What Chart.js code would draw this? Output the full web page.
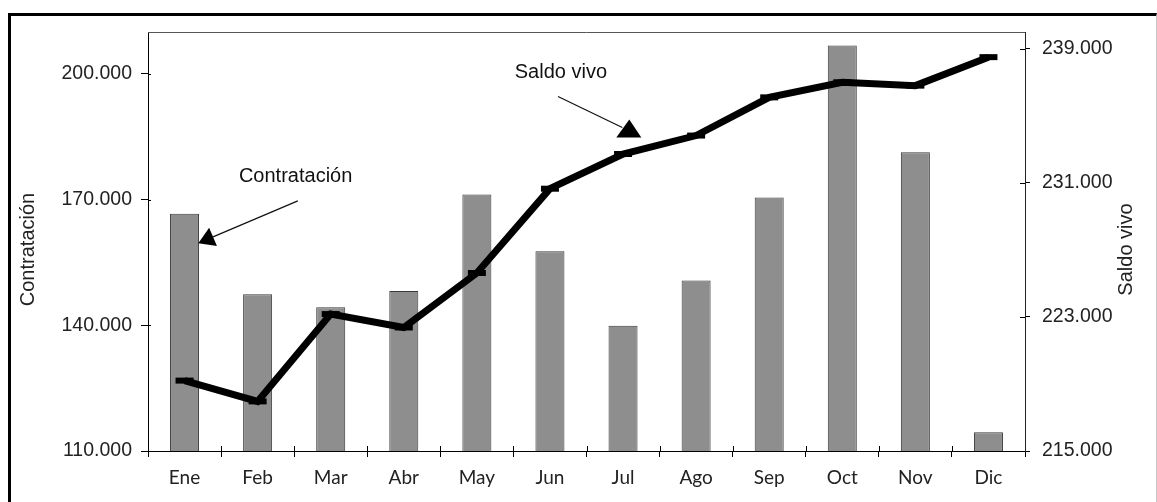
<!DOCTYPE html>
<html>
<head>
<meta charset="utf-8">
<script src="https://cdn.jsdelivr.net/npm/chart.js@4/dist/chart.umd.min.js"></script>
<style>
  html, body { margin: 0; padding: 0; background: #fff; }
  #wrap { position: relative; width: 1157px; height: 502px; overflow: hidden; }
  #frame { position: absolute; left: 8px; top: 13px; width: 1145px; height: 520px;
           border-top: 3px solid #000; border-left: 3px solid #000; border-right: 1px solid #c8c8c8; }
  canvas { position: absolute; left: 0; top: 0; }
</style>
</head>
<body>
<div id="wrap">
  <div id="frame"></div>
  <canvas id="c" width="1157" height="502"></canvas>
</div>
<script>
// ---- data ----
const months = ['Ene','Feb','Mar','Abr','May','Jun','Jul','Ago','Sep','Oct','Nov','Dic'];
const contratacion = [166600,147400,144300,148200,171200,157700,139900,150700,170500,206800,181300,114500];
const saldoVivo = [219200,217960,223170,222370,225620,230650,232720,233820,236100,237000,236800,238500];
const leftTicks = [110000,140000,170000,200000];
const rightTicks = [215000,223000,231000,239000];
const leftTitle = 'Contratación';
const rightTitle = 'Saldo vivo';

// annotation anchors in data units (category index, axis value)
const notes = [
  { text: 'Contratación', axis: 'y',  label: [1.52, 175500], from: [1.55, 169700], to: [0.39, 161100], head: 'along' },
  { text: 'Saldo vivo',   axis: 'y1', label: [5.15, 237600], from: [5.11, 236150], to: [5.99, 234300], head: 'up' }
];

const fmt = v => String(v).replace(/\B(?=(\d{3})+(?!\d))/g, '.');
const FONT = "'Liberation Sans', Arial, sans-serif";

const decor = {
  id: 'decor',
  afterDraw(chart) {
    const ctx = chart.ctx;
    const ca = chart.chartArea;
    const xs = chart.scales.x, ys = chart.scales.y, y1 = chart.scales.y1;
    ctx.save();
    // top border of plot area
    ctx.strokeStyle = '#555';
    ctx.lineWidth = 1;
    ctx.beginPath();
    ctx.moveTo(ca.left, Math.round(ca.top) + 0.5);
    ctx.lineTo(ca.right, Math.round(ca.top) + 0.5);
    ctx.stroke();
    // inner parts of crossing tick marks
    ctx.strokeStyle = '#000';
    ctx.beginPath();
    ys.ticks.forEach(t => {
      const p = Math.round(ys.getPixelForValue(t.value)) + 0.5;
      ctx.moveTo(ca.left, p); ctx.lineTo(ca.left + 3, p);
    });
    y1.ticks.forEach(t => {
      const p = Math.round(y1.getPixelForValue(t.value)) + 0.5;
      ctx.moveTo(ca.right - 5, p); ctx.lineTo(ca.right, p);
    });
    for (let i = 0; i < months.length - 1; i++) {
      const p = Math.round((xs.getPixelForValue(i) + xs.getPixelForValue(i + 1)) / 2) + 0.5;
      ctx.moveTo(p, ca.bottom); ctx.lineTo(p, ca.bottom - 5);
    }
    ctx.stroke();

    // axis titles (both read bottom to top)
    ctx.fillStyle = '#222';
    ctx.font = "20px " + FONT;
    ctx.textAlign = 'center';
    ctx.textBaseline = 'middle';
    const midY = (ca.top + ca.bottom) / 2 + 8;
    [[ys.left + 28, leftTitle], [y1.right - 31, rightTitle]].forEach(([x, t]) => {
      ctx.save();
      ctx.translate(x, midY);
      ctx.rotate(-Math.PI / 2);
      ctx.fillText(t, 0, 0);
      ctx.restore();
    });

    // annotations
    notes.forEach(n => {
      const sc = chart.scales[n.axis];
      const P = a => [xs.getPixelForValue(a[0]), sc.getPixelForValue(a[1])];
      const L = P(n.label), A = P(n.from), B = P(n.to);
      ctx.font = "20px " + FONT;
      ctx.fillStyle = '#111';
      ctx.fillText(n.text, L[0], L[1]);
      ctx.strokeStyle = '#111';
      ctx.lineWidth = 1.2;
      ctx.beginPath(); ctx.moveTo(A[0], A[1]); ctx.lineTo(B[0], B[1]); ctx.stroke();
      ctx.fillStyle = '#000';
      ctx.beginPath();
      if (n.head === 'along') {
        const dx = B[0] - A[0], dy = B[1] - A[1], d = Math.hypot(dx, dy);
        const ux = dx / d, uy = dy / d, nx = -uy, ny = ux;
        ctx.moveTo(B[0] + 16 * ux, B[1] + 16 * uy);
        ctx.lineTo(B[0] + 10 * nx, B[1] + 10 * ny);
        ctx.lineTo(B[0] - 10 * nx, B[1] - 10 * ny);
      } else {
        ctx.moveTo(B[0] + 7, B[1] - 8);
        ctx.lineTo(B[0] + 19, B[1] + 10);
        ctx.lineTo(B[0] - 6, B[1] + 10);
      }
      ctx.closePath();
      ctx.fill();
    });
    ctx.restore();
  }
};

new Chart(document.getElementById('c'), {
  type: 'bar',
  data: {
    labels: months,
    datasets: [
      {
        type: 'line',
        label: 'Saldo vivo',
        data: saldoVivo,
        yAxisID: 'y1',
        order: 0,
        borderColor: '#000',
        borderWidth: 7,
        borderJoinStyle: 'miter',
        tension: 0,
        pointStyle: 'line',
        pointRadius: 9,
        pointBorderWidth: 6,
        pointBorderColor: '#000',
        pointBackgroundColor: '#000',
        fill: false
      },
      {
        type: 'bar',
        label: 'Contratación',
        data: contratacion,
        yAxisID: 'y',
        order: 1,
        backgroundColor: '#8e8e8e',
        borderColor: '#3a3a3a',
        borderWidth: 1,
        barPercentage: 0.397,
        categoryPercentage: 1
      }
    ]
  },
  options: {
    responsive: false,
    animation: false,
    devicePixelRatio: 1,
    layout: { padding: { top: 32, left: 0, right: 0, bottom: 0 } },
    plugins: { legend: { display: false }, tooltip: { enabled: false } },
    scales: {
      x: {
        offset: true,
        grid: { display: true, drawOnChartArea: false, offset: true, tickLength: 6, color: '#000' },
        border: { display: true, color: '#000', width: 1 },
        ticks: { color: '#222', font: { family: "Lato, 'Liberation Sans', sans-serif", size: 19 }, padding: 9, maxRotation: 0 },
        afterFit(s) { s.height = 51; }
      },
      y: {
        position: 'left',
        min: 110000, max: 210000,
        afterBuildTicks(s) { s.ticks = leftTicks.map(v => ({ value: v })); },
        grid: { display: true, drawOnChartArea: false, tickLength: 7, color: '#000' },
        border: { display: true, color: '#000', width: 1 },
        ticks: { color: '#222', font: { family: FONT, size: 19.5 }, padding: 9, callback: v => fmt(v) },
        afterFit(s) { s.width = 148; }
      },
      y1: {
        position: 'right',
        min: 215000, max: 240000,
        afterBuildTicks(s) { s.ticks = rightTicks.map(v => ({ value: v })); },
        grid: { display: true, drawOnChartArea: false, tickLength: 5, color: '#000' },
        border: { display: true, color: '#222', width: 1 },
        ticks: { color: '#222', font: { family: FONT, size: 19.5 }, padding: 12, callback: v => fmt(v) },
        afterFit(s) { s.width = 132; }
      }
    }
  },
  plugins: [decor]
});
</script>
</body>
</html>
